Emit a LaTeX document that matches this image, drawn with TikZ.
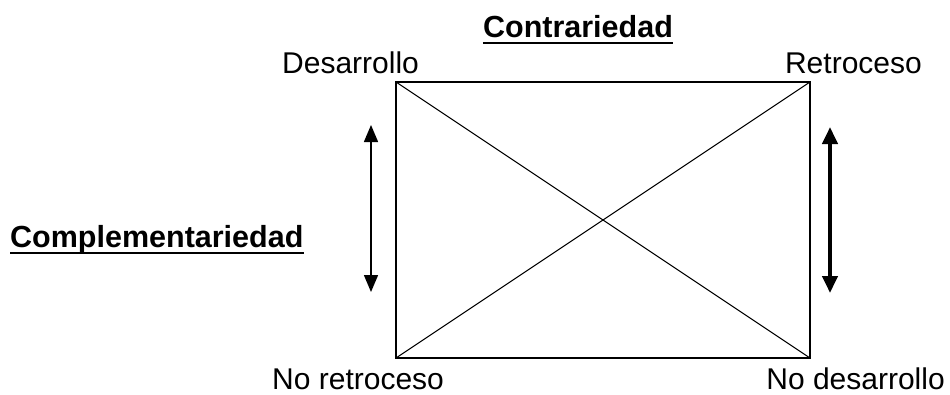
\documentclass[tikz,border=0pt]{standalone}
\usepackage{fontspec}
\setmainfont{Liberation Sans}
\usetikzlibrary{arrows.meta}
\begin{document}
\begin{tikzpicture}[x=1pt,y=-1pt,
  lbl/.style={inner sep=0pt,font=\fontsize{30}{33}\selectfont},
  ttl/.style={inner sep=0pt,font=\fontsize{30.5}{33}\selectfont\bfseries},
  uline/.style={line width=2.6pt},
  frame/.style={line width=1.4pt},
  diag/.style={line width=1pt},
  thinarrow/.style={line width=1.5pt,{Triangle[width=14pt,length=17pt]}-{Triangle[width=14pt,length=17pt]}},
  thickarrow/.style={line width=4pt,{Triangle[width=15pt,length=17pt]}-{Triangle[width=15pt,length=17pt]}}]
\useasboundingbox (0,0) rectangle (950,394);
\coordinate (TL) at (396,82);
\coordinate (TR) at (810,82);
\coordinate (BL) at (396,358);
\coordinate (BR) at (810,358);
\draw[frame] (TL) -- (TR) -- (BR) -- (BL) -- cycle;
\draw[diag] (TL) -- (BR);
\draw[diag] (BL) -- (TR);
% labels
\node[ttl,anchor=base] (contr) at (578,37) {Contrariedad};
\draw[uline] ([yshift=-6pt]contr.base west) -- ([yshift=-6pt]contr.base east);
\node[ttl,anchor=base west] (compl) at (10,247) {Complementariedad};
\draw[uline] ([yshift=-6pt]compl.base west) -- ([yshift=-6pt]compl.base east);
\node[lbl,anchor=base west] (des) at (282,73) {Desarrollo};
\node[lbl,anchor=base east] (ret) at (922,73) {Retroceso};
\node[lbl,anchor=base west] (nret) at (272,389) {No retroceso};
\node[lbl,anchor=base east] (ndes) at (945,389) {No desarrollo};
% arrows
\coordinate (la1) at (371,125);
\coordinate (la2) at (371,292);
\coordinate (ra1) at (830,127);
\coordinate (ra2) at (830,293);
\draw[thinarrow] (la1) -- (la2);
\draw[thickarrow] (ra1) -- (ra2);
\end{tikzpicture}
\end{document}
